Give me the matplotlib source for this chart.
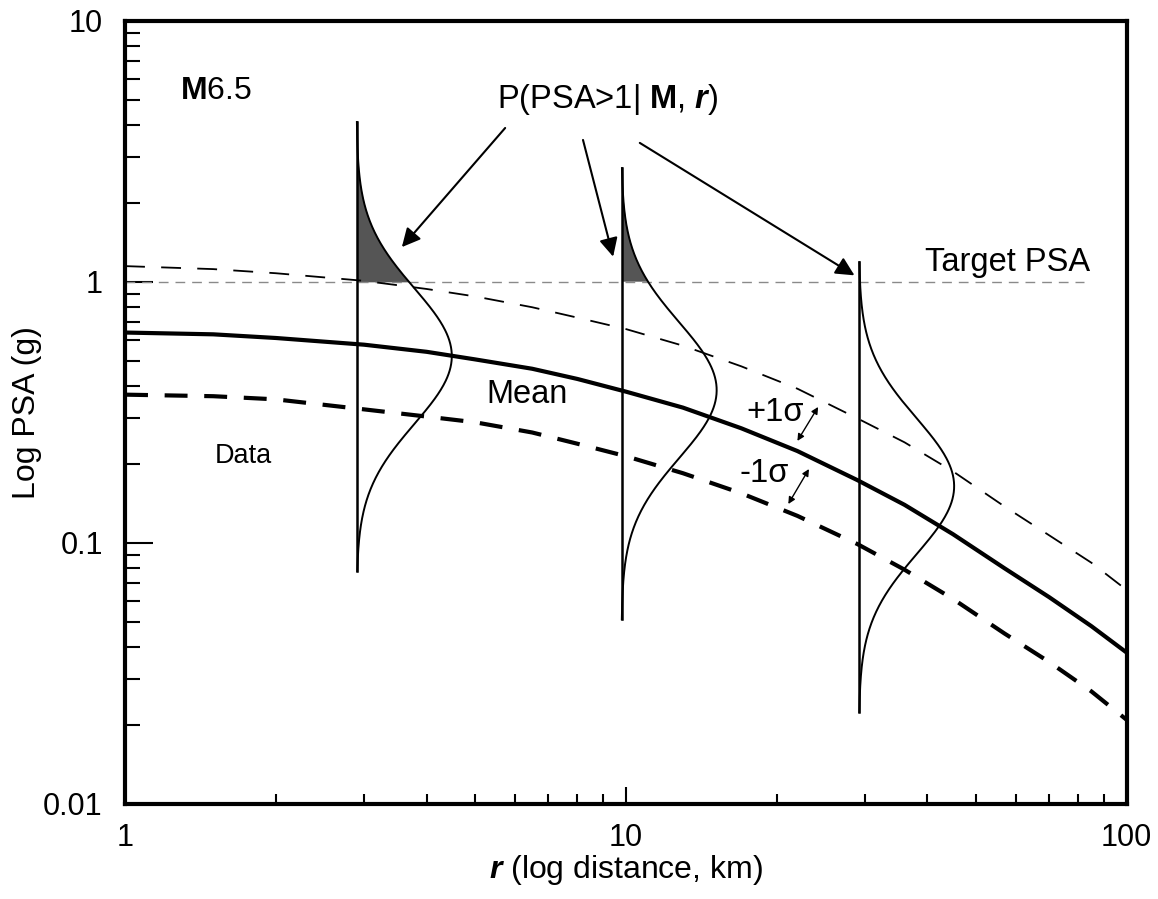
### Hazard sketch: median ground motion with +-1 sigma and lognormal spreads ###

import numpy as np
import matplotlib
matplotlib.use("Agg")
import matplotlib.pyplot as plt

plt.rcParams['font.family'] = ['Liberation Sans', 'DejaVu Sans']
plt.rcParams['mathtext.fontset'] = 'custom'
plt.rcParams['mathtext.rm'] = 'Liberation Sans'
plt.rcParams['mathtext.bf'] = 'Liberation Sans:bold'
plt.rcParams['mathtext.it'] = 'Liberation Sans:italic'
plt.rcParams['mathtext.bfit'] = 'Liberation Sans:italic:bold'

#curves (distance in km, PSA in g)
dist = [1, 1.5, 2, 3, 4, 5, 6.5, 8, 10, 13, 17, 22, 29, 36, 45, 57, 70, 85, 100]
mean_psa = [0.64, 0.63, 0.61, 0.575, 0.54, 0.505, 0.465, 0.425, 0.38, 0.33,
            0.275, 0.225, 0.174, 0.14, 0.108, 0.08, 0.062, 0.048, 0.038]
plus_psa = [1.15, 1.12, 1.08, 1.01, 0.94, 0.88, 0.80, 0.73, 0.66, 0.57,
            0.475, 0.39, 0.30, 0.243, 0.188, 0.138, 0.107, 0.084, 0.066]
minus_psa = [0.37, 0.365, 0.355, 0.325, 0.305, 0.29, 0.265, 0.24, 0.215, 0.185,
             0.155, 0.127, 0.099, 0.079, 0.061, 0.045, 0.035, 0.027, 0.021]

#target level and the three distributions
target_psa = 1.0
target_r = [1, 82]
bell_r = [2.9, 9.8, 29.2]
bell_mu = [0.52, 0.385, 0.165]
bell_top = [4.1, 2.73, 1.19]
bell_bot = [0.078, 0.051, 0.0225]
bell_sigma = 0.26   # log10 units
bell_width = 0.19   # peak height, in decades of r

fig = plt.figure(figsize=(11.58, 8.99), dpi=100)
ax = fig.add_axes([0.108, 0.1057, 0.865, 0.871])
ax.set_xscale('log')
ax.set_yscale('log')
ax.set_xlim(1, 100)
ax.set_ylim(0.01, 10)

#target PSA
ax.plot(target_r, [target_psa, target_psa], color='#8a8a8a', lw=1.0, dashes=(7, 5))

#median and +-1 sigma
ax.plot(dist, mean_psa, color='black', lw=3.0, solid_capstyle='butt')
ax.plot(dist, plus_psa, color='black', lw=1.3, dashes=(11, 9))
ax.plot(dist, minus_psa, color='black', lw=3.0, dashes=(5.5, 4))

#the distributions
for r0, mu, top, bot in zip(bell_r, bell_mu, bell_top, bell_bot):
    yy = np.logspace(np.log10(bot), np.log10(top), 400)
    z = (np.log10(yy) - np.log10(mu)) / bell_sigma
    xx = r0 * 10 ** (bell_width * np.exp(-0.5 * z ** 2))
    ax.plot([r0, r0], [bot, top], color='black', lw=1.8)
    ax.plot(xx, yy, color='black', lw=1.4)
    over = yy >= target_psa
    ax.fill_betweenx(yy[over], r0, xx[over], color='#555555', lw=0)

#labels inside the plot
ax.text(1.29, 5.4, r'$\mathbf{M}$6.5', fontsize=23, va='center', ha='left')
ax.text(9.2, 5.0, r'P(PSA>1| $\mathbf{M}$, $\mathbfit{r}$)', fontsize=23.5,
        va='center', ha='center')
ax.text(57.8, 1.19, 'Target PSA', fontsize=23.5, va='center', ha='center')
ax.text(6.35, 0.369, 'Mean', fontsize=23.5, va='center', ha='center')
ax.text(19.9, 0.315, '+1σ', fontsize=23.5, va='center', ha='center')
ax.text(18.85, 0.185, '-1σ', fontsize=23.5, va='center', ha='center')
ax.text(1.72, 0.215, 'Data', fontsize=19.5, va='center', ha='center')

#arrows to the exceedance areas
arrow_props = dict(arrowstyle='-|>', color='black', lw=1.5, mutation_scale=28,
                   shrinkA=0, shrinkB=0)
ax.annotate('', xy=(3.57, 1.36), xytext=(5.74, 3.89), arrowprops=arrow_props)
ax.annotate('', xy=(9.43, 1.25), xytext=(8.21, 3.5), arrowprops=arrow_props)
ax.annotate('', xy=(28.6, 1.06), xytext=(10.66, 3.41), arrowprops=arrow_props)

#small double arrows for sigma
dbl_props = dict(arrowstyle='<|-|>', color='black', lw=1.0, mutation_scale=10,
                 shrinkA=0, shrinkB=0)
ax.annotate('', xy=(24.2, 0.332), xytext=(22.0, 0.246), arrowprops=dbl_props)
ax.annotate('', xy=(23.2, 0.192), xytext=(21.1, 0.141), arrowprops=dbl_props)

#axes styling
for side in ['left', 'right', 'top', 'bottom']:
    ax.spines[side].set_linewidth(3)
ax.xaxis.set_ticks_position('bottom')
ax.yaxis.set_ticks_position('left')
ax.tick_params(which='both', direction='in', width=1.5, labelsize=22)
ax.tick_params(axis='y', which='major', length=20, pad=16)
ax.tick_params(axis='y', which='minor', length=11)
ax.tick_params(axis='x', which='major', length=12, pad=14)
ax.tick_params(axis='x', which='minor', length=7)
ax.set_yticks([0.01, 0.1, 1, 10])
ax.set_yticklabels(['0.01', '0.1', '1', '10'])
ax.set_xticks([1, 10, 100])
ax.set_xticklabels(['1', '10', '100'])

ax.set_xlabel(r'$\mathbfit{r}$ (log distance, km)', fontsize=23, labelpad=0)
ax.set_ylabel('Log PSA (g)', fontsize=23)
ax.yaxis.set_label_coords(-0.083, 0.5)

fig.savefig('out.png', dpi=100)
